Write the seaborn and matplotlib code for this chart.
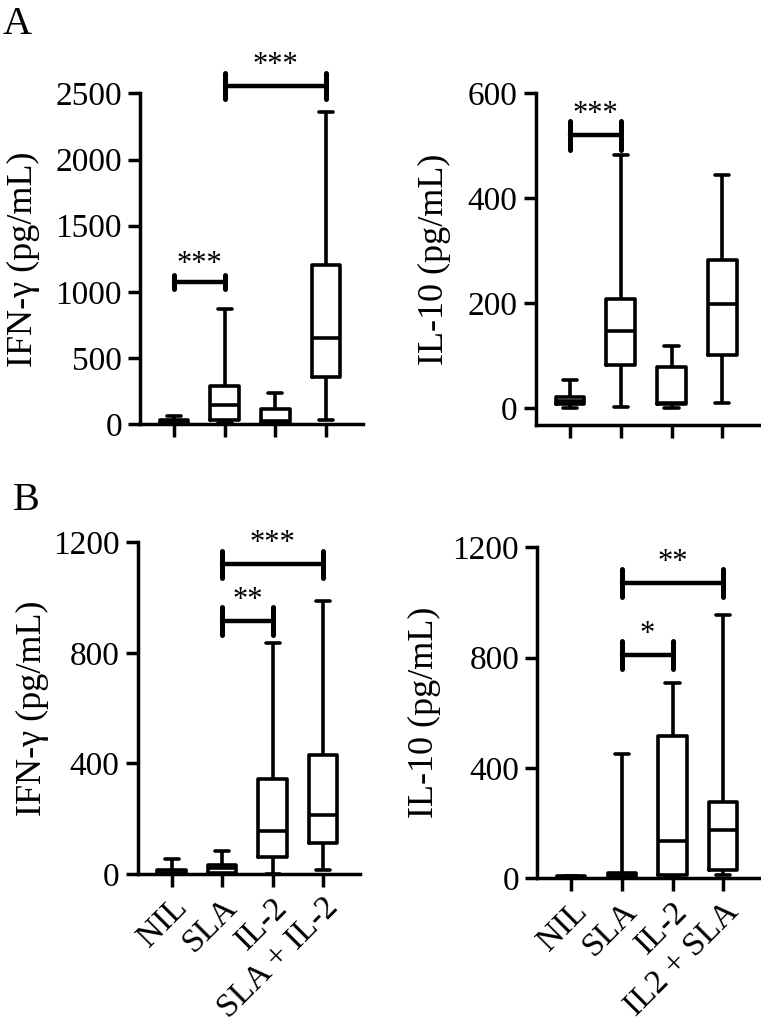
import matplotlib
matplotlib.use("Agg")
import matplotlib.pyplot as plt
import pandas as pd
import seaborn as sns

# box stats per group: [min, q1, median, q3, max]
GROUPS = ["NIL", "SLA", "IL-2", "SLA + IL-2"]
LABELS_B_LEFT = ["NIL", "SLA", "IL-2", "SLA + IL-2"]
LABELS_B_RIGHT = ["NIL", "SLA", "IL-2", "IL2 + SLA"]

A_IFN = [
    [0, 2, 10, 30, 65],
    [5, 35, 141, 287, 867],
    [0, 10, 25, 118, 237],
    [30, 358, 648, 1202, 2361],
]
A_IL10 = [
    [0, 8, 15, 22, 55],
    [2, 83, 147, 209, 482],
    [0, 8, 11, 78, 118],
    [10, 102, 199, 282, 444],
]
B_IFN = [
    [0, 1, 5, 15, 54],
    [0, 3, 22, 31, 84],
    [0, 60, 154, 345, 837],
    [13, 112, 214, 429, 988],
]
B_IL10 = [
    [0, 0, 2, 7, 9],
    [0, 2, 8, 18, 449],
    [0, 12, 135, 516, 707],
    [10, 28, 175, 277, 953],
]

# significance brackets: (x1, x2, y, half-height, star label)
A_IFN_SIG = [(0, 1, 1076, 53, "***"), (1, 3, 2555, 100, "***")]
A_IL10_SIG = [(0, 1, 520, 27, "***")]
B_IFN_SIG = [(1, 2, 914, 50, "**"), (1, 3, 1120, 50, "***")]
B_IL10_SIG = [(1, 2, 810, 50, "*"), (1, 3, 1071, 50, "**")]

FONT = ["Liberation Serif", "DejaVu Serif"]


def to_long(stats):
    rows = []
    for g, vals in zip(GROUPS, stats):
        for v in vals:
            rows.append({"group": g, "value": v})
    return pd.DataFrame(rows)


def draw_panel(ax, stats, sig, ylabel, yticks, ylim, label_x, xlabels=None):
    df = to_long(stats)
    sns.boxplot(data=df, x="group", y="value", order=GROUPS, ax=ax,
                color="black", fill=False, width=0.56, whis=(0, 100),
                linewidth=2.6, showfliers=False)
    ax.set_xlim(-0.67, 3.73)
    ax.set_ylim(*ylim)
    ax.set_yticks(yticks)
    ax.set_yticklabels([str(t) for t in yticks], fontsize=24)
    ax.set_xlabel("")
    ax.set_ylabel(ylabel, fontsize=26)
    ax.yaxis.set_label_coords(label_x, 0.5)
    ax.set_xticks(range(len(GROUPS)))
    if xlabels is None:
        ax.set_xticklabels([])
    else:
        ax.set_xticklabels(xlabels, fontsize=24, rotation=45, ha="right",
                           rotation_mode="anchor")
    ax.tick_params(direction="out", length=9, width=2.5, pad=4,
                   bottom=True, left=True, colors="black")
    for side in ["top", "right"]:
        ax.spines[side].set_visible(False)
    for side in ["left", "bottom"]:
        ax.spines[side].set_linewidth(2.5)
        ax.spines[side].set_color("black")

    for x1, x2, y, h, txt in sig:
        ax.plot([x1, x2], [y, y], color="black", lw=3.2, clip_on=False)
        ax.plot([x1, x1], [y - h, y + h], color="black", lw=3.6, clip_on=False)
        ax.plot([x2, x2], [y - h, y + h], color="black", lw=3.6, clip_on=False)
        ax.text((x1 + x2) / 2, y + h * 0.45, txt, ha="center", va="bottom",
                fontsize=22, color="black", clip_on=False)


def main():
    sns.set_theme(style="ticks")
    plt.rcParams["font.family"] = FONT
    plt.rcParams["text.color"] = "black"
    plt.rcParams["axes.labelcolor"] = "black"

    fig = plt.figure(figsize=(7.61, 10.27), dpi=100)
    ax_a1 = fig.add_axes([0.184, 0.587, 0.293, 0.322])
    ax_a2 = fig.add_axes([0.704, 0.586, 0.294, 0.323])
    ax_b1 = fig.add_axes([0.181, 0.149, 0.292, 0.323])
    ax_b2 = fig.add_axes([0.706, 0.145, 0.293, 0.322])

    draw_panel(ax_a1, A_IFN, A_IFN_SIG, "IFN-γ (pg/mL)",
               [0, 500, 1000, 1500, 2000, 2500], (0, 2500), -0.45)
    draw_panel(ax_a2, A_IL10, A_IL10_SIG, "IL-10 (pg/mL)",
               [0, 200, 400, 600], (-32, 600), -0.38)
    draw_panel(ax_b1, B_IFN, B_IFN_SIG, "IFN-γ (pg/mL)",
               [0, 400, 800, 1200], (0, 1200), -0.40, LABELS_B_LEFT)
    draw_panel(ax_b2, B_IL10, B_IL10_SIG, "IL-10 (pg/mL)",
               [0, 400, 800, 1200], (0, 1200), -0.43, LABELS_B_RIGHT)

    fig.text(0.003, 0.967, "A", fontsize=29, ha="left", va="baseline")
    fig.text(0.017, 0.503, "B", fontsize=29, ha="left", va="baseline")

    fig.savefig("out.png", dpi=100)
    plt.close(fig)


if __name__ == "__main__":
    main()
